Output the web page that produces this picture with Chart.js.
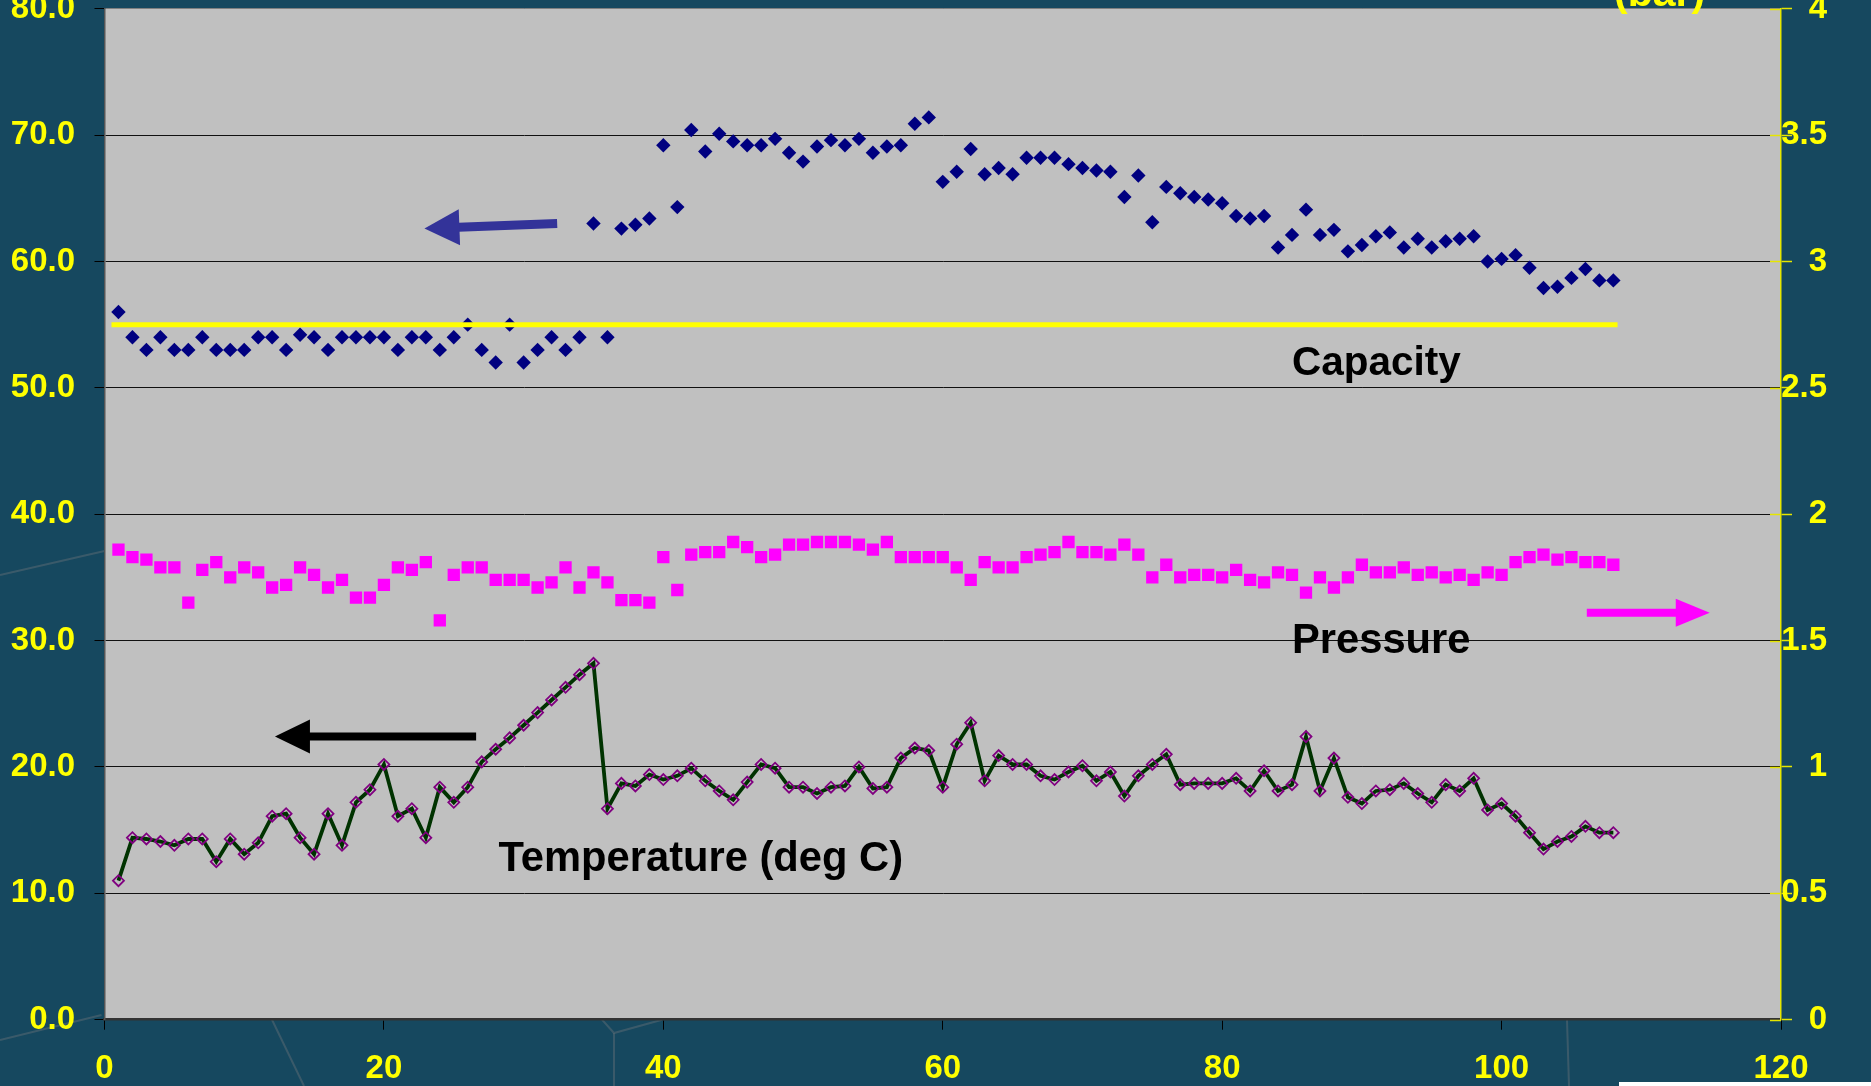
<!DOCTYPE html>
<html>
<head>
<meta charset="utf-8">
<title>Capacity, Pressure and Temperature</title>
<script src="https://cdn.jsdelivr.net/npm/chart.js@4.4.1/dist/chart.umd.min.js"></script>
<style>
  html, body { margin: 0; padding: 0; background: #16485f; overflow: hidden; }
  canvas { display: block; }
</style>
</head>
<body>
<canvas id="chart" width="1871" height="1086" style="width:1871px;height:1086px"></canvas>
<script>
// ---- readings, one per sample (sample number = position + 1) ----
const capacity = [
  56, 54, 53, 54, 53, 53, 54, 53, 53, 53,
  54, 54, 53, 54.2, 54, 53, 54, 54, 54, 54,
  53, 54, 54, 53, 54, 55, 53, 52, 55, 52,
  53, 54, 53, 54, 63, 54, 62.6, 62.9, 63.4, 69.2,
  64.3, 70.4, 68.7, 70.1, 69.5, 69.2, 69.2, 69.7, 68.6, 67.9,
  69.1, 69.6, 69.2, 69.7, 68.6, 69.1, 69.2, 70.9, 71.4, 66.3,
  67.1, 68.9, 66.9, 67.4, 66.9, 68.2, 68.2, 68.2, 67.7, 67.4,
  67.2, 67.1, 65.1, 66.8, 63.1, 65.9, 65.4, 65.1, 64.9, 64.6,
  63.6, 63.4, 63.6, 61.1, 62.1, 64.1, 62.1, 62.5, 60.8, 61.3,
  62.0, 62.3, 61.1, 61.8, 61.1, 61.6, 61.8, 62.0, 60.0, 60.2,
  60.5, 59.5, 57.9, 58.0, 58.7, 59.4, 58.5, 58.5
];

const pressureBar = [
  1.86, 1.83, 1.82, 1.79, 1.79, 1.65, 1.78, 1.81, 1.75, 1.79,
  1.77, 1.71, 1.72, 1.79, 1.76, 1.71, 1.74, 1.67, 1.67, 1.72,
  1.79, 1.78, 1.81, 1.58, 1.76, 1.79, 1.79, 1.74, 1.74, 1.74,
  1.71, 1.73, 1.79, 1.71, 1.77, 1.73, 1.66, 1.66, 1.65, 1.83,
  1.70, 1.84, 1.85, 1.85, 1.89, 1.87, 1.83, 1.84, 1.88, 1.88,
  1.89, 1.89, 1.89, 1.88, 1.86, 1.89, 1.83, 1.83, 1.83, 1.83,
  1.79, 1.74, 1.81, 1.79, 1.79, 1.83, 1.84, 1.85, 1.89, 1.85,
  1.85, 1.84, 1.88, 1.84, 1.75, 1.80, 1.75, 1.76, 1.76, 1.75,
  1.78, 1.74, 1.73, 1.77, 1.76, 1.69, 1.75, 1.71, 1.75, 1.80,
  1.77, 1.77, 1.79, 1.76, 1.77, 1.75, 1.76, 1.74, 1.77, 1.76,
  1.81, 1.83, 1.84, 1.82, 1.83, 1.81, 1.81, 1.80
];

const temperatureC = [
  11.0, 14.4, 14.3, 14.1, 13.8, 14.3, 14.3, 12.5, 14.3, 13.1,
  14.0, 16.1, 16.3, 14.4, 13.1, 16.3, 13.8, 17.2, 18.2, 20.2,
  16.1, 16.7, 14.4, 18.4, 17.2, 18.4, 20.4, 21.4, 22.3, 23.3,
  24.3, 25.3, 26.3, 27.3, 28.2, 16.7, 18.7, 18.5, 19.4, 19.0,
  19.3, 19.9, 18.9, 18.1, 17.4, 18.8, 20.2, 19.9, 18.4, 18.4,
  17.9, 18.4, 18.5, 20.0, 18.3, 18.4, 20.7, 21.5, 21.3, 18.4,
  21.8, 23.5, 18.9, 20.9, 20.2, 20.2, 19.3, 19.0, 19.6, 20.1,
  18.9, 19.6, 17.7, 19.3, 20.2, 21.0, 18.6, 18.7, 18.7, 18.7,
  19.1, 18.1, 19.7, 18.1, 18.6, 22.4, 18.1, 20.7, 17.6, 17.1,
  18.1, 18.2, 18.7, 17.9, 17.2, 18.6, 18.1, 19.1, 16.6, 17.1,
  16.1, 14.8, 13.5, 14.1, 14.5, 15.3, 14.8, 14.8
];

// capacity target line and the sample range it spans
const capacityTarget = 55;
const targetSpan = [0.5, 108.3];

// axis ranges and ticks
const xTicks = [0, 20, 40, 60, 80, 100, 120];
const leftTicks = [0, 10, 20, 30, 40, 50, 60, 70, 80];
const rightTicks = [0, 0.5, 1, 1.5, 2, 2.5, 3, 3.5, 4];

// ---- helpers ----
const toPoints = arr => arr.map((v, i) => ({ x: i + 1, y: v }));
const FONT = '"Liberation Sans", Arial, Helvetica, sans-serif';

// labels and arrows, placed in data units of the x / left axes
const notes = [
  { text: 'Capacity', x: 85, y: 51.0, size: 40.5 },
  { text: 'Pressure', x: 85, y: 29.0, size: 41.7 },
  { text: 'Temperature (deg C)', x: 28.2, y: 11.8, size: 41.7 }
];
const arrows = [
  { from: { x: 32.4, y: 63.0 }, to: { x: 22.9, y: 62.6 }, color: '#333399', shaft: 9, head: 35, half: 18 },
  { from: { x: 26.6, y: 22.4 }, to: { x: 12.2, y: 22.4 }, color: '#000000', shaft: 8, head: 35, half: 17 },
  { from: { x: 106.1, y: 32.2 }, to: { x: 114.9, y: 32.2 }, color: '#ff00ff', shaft: 8, head: 34, half: 14 }
];

// ---- plugins ----
const backdrop = {
  id: 'backdrop',
  beforeDraw(chart) {
    const { ctx, chartArea: a, width, height } = chart;
    ctx.save();
    ctx.fillStyle = '#16485f';
    ctx.fillRect(0, 0, width, height);

    // faint strokes of the slide background
    ctx.strokeStyle = 'rgba(90,105,115,0.55)';
    ctx.lineWidth = 2;
    const strokes = [
      [[0, 575], [a.left, 551]],
      [[0, 1040], [a.left - 3, 1015]],
      [[272, a.bottom], [304, height]],
      [[602, a.bottom], [614, 1033], [662, a.bottom]],
      [[614, 1033], [614, height]],
      [[1567, a.bottom], [1569, height]]
    ];
    strokes.forEach(pts => {
      ctx.beginPath();
      ctx.moveTo(pts[0][0], pts[0][1]);
      for (let i = 1; i < pts.length; i++) ctx.lineTo(pts[i][0], pts[i][1]);
      ctx.stroke();
    });
    ctx.fillStyle = '#ffffff';
    ctx.fillRect(1619, 1082, width - 1619, 4);

    // plot area
    ctx.fillStyle = '#c0c0c0';
    ctx.fillRect(a.left, a.top, a.right - a.left, a.bottom - a.top);
    ctx.restore();
  }
};

const annotations = {
  id: 'annotations',
  afterDraw(chart) {
    const { ctx, chartArea: a } = chart;
    const xs = chart.scales.x, ys = chart.scales.y, y2 = chart.scales.y2;
    ctx.save();

    // right axis: tick marks reach into the plot, labels right-aligned
    ctx.strokeStyle = '#e6e600';
    ctx.lineWidth = 1.5;
    ctx.fillStyle = '#ffff00';
    ctx.font = 'bold 33px ' + FONT;
    ctx.textAlign = 'right';
    ctx.textBaseline = 'middle';
    y2.ticks.forEach(t => {
      const py = y2.getPixelForValue(t.value);
      const ay = Math.round(py) + 0.5;
      ctx.beginPath();
      ctx.moveTo(a.right - 11, ay);
      ctx.lineTo(a.right, ay);
      ctx.stroke();
      ctx.fillText(String(t.value), y2.right, py);
    });

    // arrows
    arrows.forEach(ar => {
      const x1 = xs.getPixelForValue(ar.from.x), y1 = ys.getPixelForValue(ar.from.y);
      const x2 = xs.getPixelForValue(ar.to.x), y2p = ys.getPixelForValue(ar.to.y);
      const ang = Math.atan2(y2p - y1, x2 - x1);
      const bx = x2 - Math.cos(ang) * ar.head, by = y2p - Math.sin(ang) * ar.head;
      ctx.strokeStyle = ar.color;
      ctx.lineWidth = ar.shaft;
      ctx.lineCap = 'butt';
      ctx.beginPath();
      ctx.moveTo(x1, y1);
      ctx.lineTo(bx + Math.cos(ang), by + Math.sin(ang));
      ctx.stroke();
      ctx.fillStyle = ar.color;
      ctx.beginPath();
      ctx.moveTo(x2, y2p);
      ctx.lineTo(bx + Math.sin(ang) * ar.half, by - Math.cos(ang) * ar.half);
      ctx.lineTo(bx - Math.sin(ang) * ar.half, by + Math.cos(ang) * ar.half);
      ctx.closePath();
      ctx.fill();
    });

    // series labels
    ctx.fillStyle = '#000000';
    ctx.textAlign = 'left';
    ctx.textBaseline = 'alphabetic';
    notes.forEach(n => {
      ctx.font = 'bold ' + n.size + 'px ' + FONT;
      ctx.fillText(n.text, xs.getPixelForValue(n.x), ys.getPixelForValue(n.y));
    });

    // right axis unit
    ctx.fillStyle = '#ffff00';
    ctx.font = 'bold 41px ' + FONT;
    ctx.fillText('(bar)', a.right - 167, a.top - 3);
    ctx.restore();
  }
};

const tickFont = { family: FONT, size: 33, weight: 'bold' };

new Chart(document.getElementById('chart'), {
  type: 'scatter',
  data: {
    datasets: [
      {
        label: 'Capacity target',
        data: [{ x: targetSpan[0], y: capacityTarget }, { x: targetSpan[1], y: capacityTarget }],
        showLine: true,
        borderColor: '#ffff00',
        borderWidth: 5,
        pointRadius: 0,
        yAxisID: 'y',
        order: 0
      },
      {
        label: 'Capacity',
        data: toPoints(capacity),
        pointStyle: 'rectRot',
        pointRadius: 7.2,
        pointBackgroundColor: '#000080',
        pointBorderColor: '#000080',
        pointBorderWidth: 0,
        yAxisID: 'y',
        order: 1
      },
      {
        label: 'Pressure',
        data: toPoints(pressureBar),
        pointStyle: 'rect',
        pointRadius: 8.7,
        pointBackgroundColor: '#ff00ff',
        pointBorderColor: '#ff00ff',
        pointBorderWidth: 0,
        yAxisID: 'y2',
        order: 2
      },
      {
        label: 'Temperature (deg C)',
        data: toPoints(temperatureC),
        showLine: true,
        borderColor: '#003300',
        borderWidth: 3.8,
        tension: 0,
        pointStyle: 'rectRot',
        pointRadius: 5.5,
        pointBackgroundColor: 'rgba(0,0,0,0)',
        pointBorderColor: '#800080',
        pointBorderWidth: 1.8,
        yAxisID: 'y',
        order: 3
      }
    ]
  },
  options: {
    responsive: false,
    animation: false,
    events: [],
    layout: { padding: { top: 7, right: 44, bottom: 0, left: 0 } },
    plugins: { legend: { display: false }, tooltip: { enabled: false } },
    scales: {
      x: {
        type: 'linear',
        position: 'bottom',
        min: 0,
        max: 120,
        afterBuildTicks: s => { s.ticks = xTicks.map(v => ({ value: v })); },
        ticks: { color: '#ffff00', font: tickFont, padding: 19, maxRotation: 0, autoSkip: false, callback: v => String(v) },
        grid: { drawOnChartArea: false, drawTicks: true, tickLength: 10, tickColor: '#000000', tickWidth: 1 },
        border: { color: '#333333', width: 2.5 },
        afterFit: s => { s.height = 66.3; s.paddingLeft = 0; s.paddingRight = 0; }
      },
      y: {
        type: 'linear',
        position: 'left',
        min: 0,
        max: 80,
        afterBuildTicks: s => { s.ticks = leftTicks.map(v => ({ value: v })); },
        ticks: { color: '#ffff00', font: tickFont, padding: 19.5, autoSkip: false, callback: v => v.toFixed(1) },
        grid: {
          color: c => (c.tick && c.tick.value === 80 ? '#808080' : '#111111'),
          lineWidth: 1,
          tickLength: 10,
          tickColor: '#000000'
        },
        border: { color: '#555555', width: 1.5 },
        afterFit: s => { s.width = 104.5; s.paddingTop = 0; s.paddingBottom = 0; }
      },
      y2: {
        type: 'linear',
        position: 'right',
        min: 0,
        max: 4,
        afterBuildTicks: s => { s.ticks = rightTicks.map(v => ({ value: v })); },
        // labels for this axis are written by the annotations plugin
        ticks: { display: false },
        grid: { drawOnChartArea: false, tickLength: 11, tickColor: '#e6e600', tickWidth: 1.5 },
        border: { color: '#e6e600', width: 1.5 },
        afterFit: s => { s.width = 46; s.paddingTop = 0; s.paddingBottom = 0; }
      }
    }
  },
  plugins: [backdrop, annotations]
});
</script>
</body>
</html>
